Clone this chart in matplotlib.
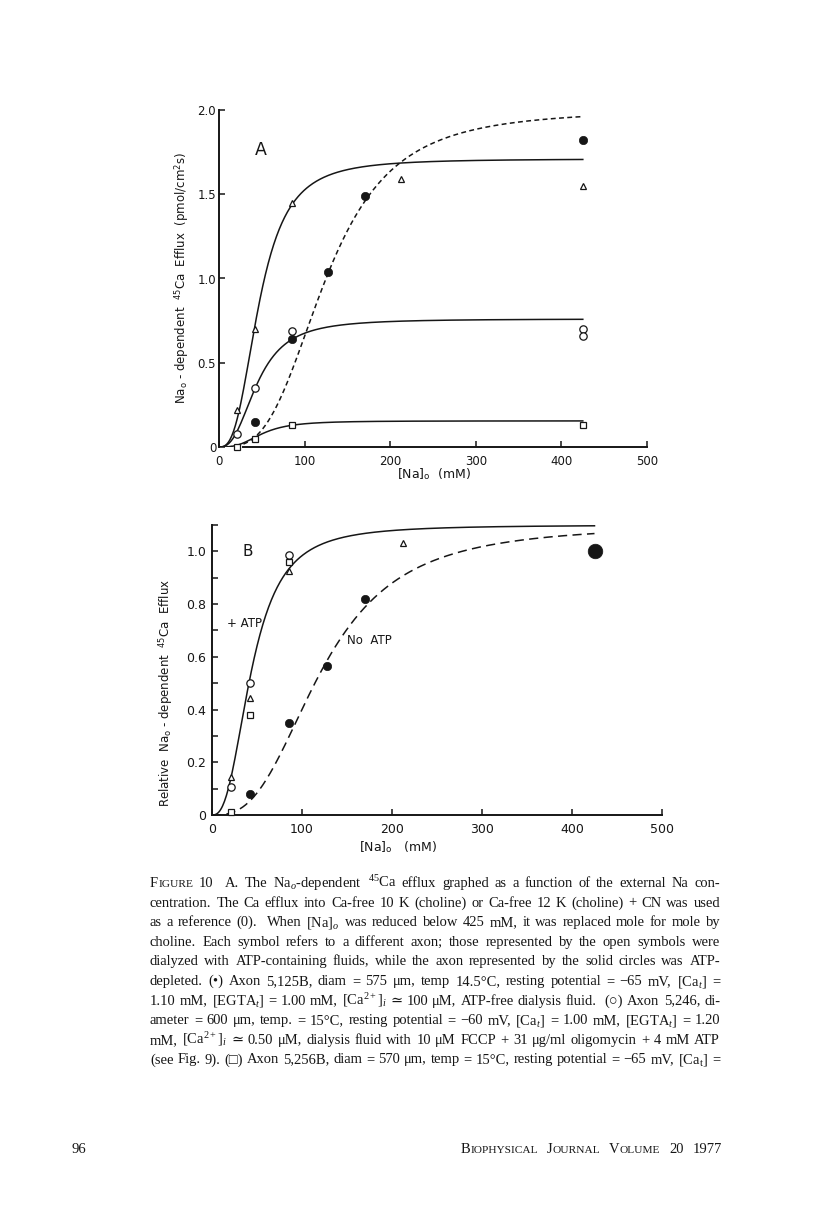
import matplotlib
matplotlib.use('Agg')
import matplotlib.pyplot as plt
import numpy as np

plt.rcParams['mathtext.fontset'] = 'custom'
plt.rcParams['mathtext.rm'] = 'Liberation Serif'
plt.rcParams['mathtext.it'] = 'Liberation Serif:italic'
plt.rcParams['mathtext.bf'] = 'Liberation Serif:bold'

INK = '#161616'
SANS = 'DejaVu Sans'
SERIF = ['Liberation Serif', 'DejaVu Serif', 'DejaVu Sans']

# ---------------- data: panel A ----------------
a_tri_x = [21.25, 42.5, 85, 212.5, 425]
a_tri_y = [0.22, 0.70, 1.45, 1.59, 1.55]
a_oc_x = [21.25, 42.5, 85, 425, 425]
a_oc_y = [0.08, 0.35, 0.69, 0.70, 0.66]
a_fc_x = [42.5, 85, 127.5, 170, 425]
a_fc_y = [0.15, 0.64, 1.04, 1.49, 1.82]
a_sq_x = [21.25, 42.5, 85, 425]
a_sq_y = [0.00, 0.05, 0.13, 0.13]
# fitted curve parameters (Vmax, K, n)
a_fit_tri = (1.71, 47, 2.8)
a_fit_oc = (0.76, 45, 2.6)
a_fit_sq = (0.155, 50, 3.0)
a_fit_fc = (2.00, 125, 3.2)

# ---------------- data: panel B ----------------
b_tri_x = [21.25, 42.5, 85, 212.5]
b_tri_y = [0.145, 0.445, 0.925, 1.03]
b_oc_x = [21.25, 42.5, 85]
b_oc_y = [0.105, 0.50, 0.985]
b_sq_x = [21.25, 42.5, 85]
b_sq_y = [0.01, 0.38, 0.96]
b_fc_x = [42.5, 85, 127.5, 170]
b_fc_y = [0.08, 0.35, 0.565, 0.82]
b_fc_big_x = [425]
b_fc_big_y = [1.00]
b_fit_atp = (1.10, 44, 2.6)
b_fit_noatp = (1.10, 122, 2.8)

a_yticks = [0, 0.5, 1.0, 1.5, 2.0]
b_yticks = [0, 0.2, 0.4, 0.6, 0.8, 1.0]
x_ticks = [0, 100, 200, 300, 400, 500]

caption_lines = [
    "§FIGURE 10  A. The Na$_o$-dependent $^{45}$Ca efflux graphed as a function of the external Na con-",
    "centration. The Ca efflux into Ca-free 10 K (choline) or Ca-free 12 K (choline) + CN was used",
    "as a reference (0).  When [Na]$_o$ was reduced below 425 mM, it was replaced mole for mole by",
    "choline. Each symbol refers to a different axon; those represented by the open symbols were",
    "dialyzed with ATP-containing fluids, while the axon represented by the solid circles was ATP-",
    "depleted. (•) Axon 5,125B, diam = 575 μm, temp 14.5°C, resting potential = −65 mV, [Ca$_t$] =",
    "1.10 mM, [EGTA$_t$] = 1.00 mM, [Ca$^{2+}$]$_i$ ≃ 100 μM, ATP-free dialysis fluid.  (○) Axon 5,246, di-",
    "ameter = 600 μm, temp. = 15°C, resting potential = −60 mV, [Ca$_t$] = 1.00 mM, [EGTA$_t$] = 1.20",
    "mM, [Ca$^{2+}$]$_i$ ≃ 0.50 μM, dialysis fluid with 10 μM FCCP + 31 μg/ml oligomycin + 4 mM ATP",
    "(see Fig. 9). (□) Axon 5,256B, diam = 570 μm, temp = 15°C, resting potential = −65 mV, [Ca$_\\mathrm{t}$] =",
]
page_number = "96"
journal_words = ["§BIOPHYSICAL", "§JOURNAL", "§VOLUME", "20", "1977"]


def hill(x, p):
    v, k, n = p
    x = np.asarray(x, float)
    return v * x ** n / (k ** n + x ** n)


W, H = 816, 1225
fig = plt.figure(figsize=(W / 100, H / 100), dpi=100)
fig.patch.set_facecolor('white')


def style_axes(ax, ymax, yticks, yminor, ytick_fs, xpad, ypad):
    for s in ['top', 'right']:
        ax.spines[s].set_visible(False)
    for s in ['left', 'bottom']:
        ax.spines[s].set_linewidth(1.4)
        ax.spines[s].set_color(INK)
    ax.set_xlim(0, 500)
    ax.set_ylim(0, ymax)
    ax.set_xticks(x_ticks)
    ax.set_xticklabels([str(t) for t in x_ticks])
    ax.set_yticks(yticks)
    ax.set_yticklabels(['0' if t == 0 else '%.1f' % t for t in yticks])
    if yminor:
        ax.set_yticks(yminor, minor=True)
    ax.tick_params(axis='both', which='both', direction='in', length=4, width=1.1,
                   colors=INK, labelsize=ytick_fs)
    ax.tick_params(axis='x', pad=xpad)
    ax.tick_params(axis='y', pad=ypad)
    for lab in ax.get_xticklabels() + ax.get_yticklabels():
        lab.set_family(SANS)
    ax.set_facecolor('none')


# ---------------- Panel A ----------------
axA = fig.add_axes([219 / W, 1 - 447 / H, 428 / W, 337 / H])
style_axes(axA, 2.0, a_yticks, None, 8.5, 6, 2)
axA.spines['bottom'].set_bounds(28, 500)
xs = np.linspace(0, 425, 400)
lw = 1.1
axA.plot(xs, hill(xs, a_fit_tri), color=INK, lw=lw)
axA.plot(xs, hill(xs, a_fit_oc), color=INK, lw=lw)
axA.plot(xs, hill(xs, a_fit_sq), color=INK, lw=lw)
axA.plot(xs, hill(xs, a_fit_fc), color=INK, lw=lw, dashes=(3.2, 2.2))
mk = dict(linestyle='none', clip_on=False, zorder=5)
axA.plot(a_tri_x, a_tri_y, marker='^', ms=5.0, mfc='white', mec=INK, mew=0.9, **mk)
axA.plot(a_oc_x, a_oc_y, marker='o', ms=5.3, mfc='white', mec=INK, mew=0.9, **mk)
axA.plot(a_fc_x, a_fc_y, marker='o', ms=6.0, mfc=INK, mec=INK, mew=0.5, **mk)
axA.plot(a_sq_x, a_sq_y, marker='s', ms=4.8, mfc='white', mec=INK, mew=0.9, **mk)
axA.text(49, 1.76, 'A', fontsize=12.5, family=SANS, color=INK, ha='center', va='center')
axA.set_ylabel('Na$_\\mathregular{o}$ - dependent  $^\\mathregular{45}$Ca  Efflux  (pmol/cm$^\\mathregular{2}$s)',
               fontsize=8.5, family=SANS, color=INK)
axA.yaxis.set_label_coords(-0.066, 0.5)
axA.set_xlabel('[Na]$_\\mathregular{o}$  (mM)', fontsize=9, family=SANS, color=INK)
axA.xaxis.set_label_coords(0.502, -0.058)

# ---------------- Panel B ----------------
axB = fig.add_axes([212 / W, 1 - 815 / H, 450 / W, 290 / H])
style_axes(axB, 1.1, b_yticks, [0.1, 0.3, 0.5, 0.7, 0.9, 1.1], 9, 6, 4)
axB.plot(xs, hill(xs, b_fit_atp), color=INK, lw=lw)
axB.plot(xs, hill(xs, b_fit_noatp), color=INK, lw=lw, dashes=(6, 3.5))
axB.plot(b_tri_x, b_tri_y, marker='^', ms=5.0, mfc='white', mec=INK, mew=0.9, **mk)
axB.plot(b_oc_x, b_oc_y, marker='o', ms=5.3, mfc='white', mec=INK, mew=0.9, **mk)
axB.plot(b_sq_x, b_sq_y, marker='s', ms=4.8, mfc='white', mec=INK, mew=0.9, **mk)
axB.plot(b_fc_x, b_fc_y, marker='o', ms=6.0, mfc=INK, mec=INK, mew=0.5, **mk)
axB.plot(b_fc_big_x, b_fc_big_y, marker='o', ms=10.5, mfc=INK, mec=INK, mew=0.5, **mk)
axB.text(40, 1.0, 'B', fontsize=11, family=SANS, color=INK, ha='center', va='center')
axB.text(36, 0.725, '+ ATP', fontsize=8.5, family=SANS, color=INK, ha='center', va='center')
axB.text(175, 0.66, 'No  ATP', fontsize=8.5, family=SANS, color=INK, ha='center', va='center')
axB.set_ylabel('Relative  Na$_\\mathregular{o}$ - dependent  $^\\mathregular{45}$Ca  Efflux',
               fontsize=8.5, family=SANS, color=INK)
axB.yaxis.set_label_coords(-0.082, 0.42)
axB.set_xlabel('[Na]$_\\mathregular{o}$   (mM)', fontsize=9, family=SANS, color=INK)
axB.xaxis.set_label_coords(0.413, -0.082)

# ---------------- caption (justified) ----------------
renderer = fig.canvas.get_renderer()


def word_parts(word, size):
    if word.startswith('§'):
        w = word[1:]
        return [(w[0], size), (w[1:].upper(), size * 0.78)]
    return [(word, size)]


def make_word(word, size, y):
    texts = []
    for s, sz in word_parts(word, size):
        fam = 'Liberation Serif' if '$' in s else SERIF
        t = fig.text(0, y, s, fontsize=sz, family=fam, va='baseline', ha='left', color=INK)
        texts.append(t)
    widths = [t.get_window_extent(renderer).width / W for t in texts]
    return texts, widths


def place(texts, widths, x):
    for t, w in zip(texts, widths):
        t.set_x(x)
        x += w
    return x


cap_left, cap_right = 150 / W, 720 / W
avail = cap_right - cap_left

# choose the caption size so that the longest line fits with normal word spaces
test_size = 10.0
natural = []
for line in caption_lines:
    words = line.split(' ')
    tot = 0
    for wd in words:
        if wd:
            tx, ws = make_word(wd, test_size, 0.5)
            tot += sum(ws)
            for t in tx:
                t.remove()
    tot += (len(words) - 1) * 0.25 * test_size * 100 / 72 / W
    natural.append(tot)
cap_size = test_size * avail / max(natural) * 0.99

line0_base = 887
line_step = 19.6
for i, line in enumerate(caption_lines):
    y = 1 - (line0_base + i * line_step) / H
    words = line.split(' ')
    made = []
    total = 0
    for wd in words:
        if wd == '':
            made.append(([], [0.0]))
            continue
        tx, ws = make_word(wd, cap_size, y)
        made.append((tx, ws))
        total += sum(ws)
    gap = (avail - total) / (len(words) - 1)
    x = cap_left
    for tx, ws in made:
        if tx:
            x = place(tx, ws, x)
        x += gap

# footer
fy = 1 - 1153 / H
fig.text(72 / W, fy, page_number, fontsize=10.5, family=SERIF, va='baseline', ha='left', color=INK)
made = []
total = 0
for wd in journal_words:
    tx, ws = make_word(wd, 10.5, fy)
    made.append((tx, ws))
    total += sum(ws)
fgap = 9 / W
x = 722 / W - total - fgap * (len(journal_words) - 1)
for tx, ws in made:
    x = place(tx, ws, x) + fgap

fig.savefig('out.png', dpi=100, facecolor='white')
